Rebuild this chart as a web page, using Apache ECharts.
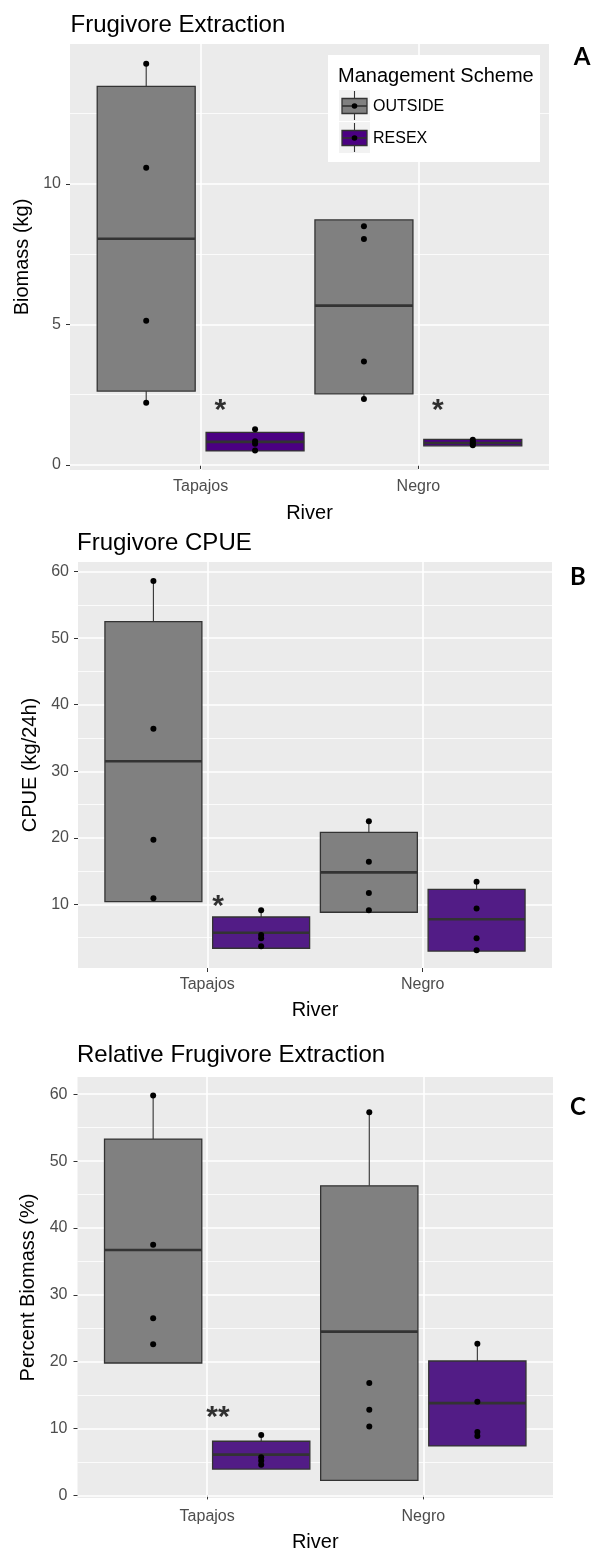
<!DOCTYPE html>
<html>
<head>
<meta charset="utf-8">
<title>Frugivore extraction by river and management scheme</title>
<script src="https://cdn.jsdelivr.net/npm/echarts@6/dist/echarts.min.js"></script>
<style>
  html, body { margin: 0; padding: 0; background: #ffffff; }
  #chart { width: 593px; height: 1553px; }
</style>
</head>
<body>
<div id="chart"></div>
<script>
// ---- data -------------------------------------------------------------
const rivers = ['Tapajos', 'Negro'];
const schemes = ['OUTSIDE', 'RESEX'];

// Box statistics per river/scheme: [lower whisker, Q1, median, Q3, upper whisker]
// order: Tapajos OUTSIDE, Tapajos RESEX, Negro OUTSIDE, Negro RESEX
const extractionBoxes = [
  [2.21, 2.63, 8.05, 13.47, 14.28],
  [0.50, 0.50, 0.82, 1.16, 1.27],
  [2.35, 2.53, 5.67, 8.72, 8.72],
  [0.68, 0.68, 0.78, 0.91, 0.91]
];
const extractionPoints = [
  [14.28, 10.58, 5.13, 2.21],
  [1.27, 0.84, 0.75, 0.51],
  [8.49, 8.04, 3.68, 2.35],
  [0.90, 0.82, 0.76, 0.70]
];
const extractionSig = [
  { river: 0, text: '*', y: 2.2 },
  { river: 1, text: '*', y: 2.2 }
];
const extractionTicks = [0, 5, 10];
const extractionMinor = [2.5, 7.5, 12.5];

const cpueBoxes = [
  [10.4, 10.4, 31.5, 52.5, 58.6],
  [3.39, 3.39, 5.73, 8.09, 9.1],
  [8.8, 8.8, 14.8, 20.8, 22.5],
  [2.96, 2.96, 7.75, 12.25, 13.4]
];
const cpuePoints = [
  [58.6, 36.4, 19.7, 10.9],
  [9.1, 5.4, 4.9, 3.7],
  [22.5, 16.4, 11.7, 9.1],
  [13.4, 9.35, 4.9, 3.1]
];
const cpueSig = [
  { river: 0, text: '*', y: 10.9 }
];
const cpueTicks = [10, 20, 30, 40, 50, 60];
const cpueMinor = [5, 15, 25, 35, 45, 55];

const relativeBoxes = [
  [19.8, 19.8, 36.7, 53.3, 59.8],
  [3.94, 3.94, 6.1, 8.1, 9.05],
  [2.24, 2.24, 24.5, 46.3, 57.3],
  [7.4, 7.4, 13.8, 20.1, 22.7]
];
const relativePoints = [
  [59.8, 37.5, 26.5, 22.6],
  [9.05, 5.7, 5.2, 4.6],
  [57.3, 16.8, 12.8, 10.3],
  [22.7, 14.0, 9.5, 8.9]
];
const relativeSig = [
  { river: 0, text: '**', y: 12.8 }
];
const relativeTicks = [0, 10, 20, 30, 40, 50, 60];
const relativeMinor = [5, 15, 25, 35, 45, 55];

// ---- layout & style ---------------------------------------------------
const FONT = "'Liberation Sans', Arial, sans-serif";
const GREY = '#808080';
const DODGE = 0.25;      // offset of each scheme from the river position
const BOX_WIDTH = 0.45;  // box width in river-axis units
const X_RANGE = [0.4, 2.6];

const panels = [
  {
    title: 'Frugivore Extraction', tag: 'A', yName: 'Biomass (kg)',
    boxes: extractionBoxes, points: extractionPoints, sig: extractionSig, sigShift: 0.09,
    ticks: extractionTicks, minor: extractionMinor, yRange: [-0.18, 14.98],
    grid: { left: 70, top: 44, width: 479, height: 426 },
    fills: [GREY, '#4B0082'],
    titlePos: [70.5, 13], tagPos: [582, 57],
    yNameGap: 35, xNameGap: 33, xLabelMargin: 9, yLabelMargin: 9
  },
  {
    title: 'Frugivore CPUE', tag: 'B', yName: 'CPUE (kg/24h)',
    boxes: cpueBoxes, points: cpuePoints, sig: cpueSig, sigShift: 0.05,
    ticks: cpueTicks, minor: cpueMinor, yRange: [0.42, 61.46],
    grid: { left: 78, top: 562, width: 474, height: 406 },
    fills: [GREY, '#521C86'],
    titlePos: [77, 531], tagPos: [578, 577],
    yNameGap: 38, xNameGap: 32, xLabelMargin: 9, yLabelMargin: 9
  },
  {
    title: 'Relative Frugivore Extraction', tag: 'C', yName: 'Percent Biomass (%)',
    boxes: relativeBoxes, points: relativePoints, sig: relativeSig, sigShift: 0.05,
    ticks: relativeTicks, minor: relativeMinor, yRange: [-0.39, 62.58],
    grid: { left: 77.5, top: 1077, width: 475.5, height: 422 },
    fills: [GREY, '#521C86'],
    titlePos: [77, 1043], tagPos: [578, 1107],
    yNameGap: 37, xNameGap: 34, xLabelMargin: 10.5, yLabelMargin: 10
  }
];

function boxX(k) {
  const river = Math.floor(k / 2);
  const scheme = k % 2;
  return river + 1 + (scheme === 0 ? -DODGE : DODGE);
}

function boxRenderer(fills) {
  return function (params, api) {
    const x = api.value(0);
    const pLo = api.coord([x, api.value(1)]);
    const pQ1 = api.coord([x, api.value(2)]);
    const pMed = api.coord([x, api.value(3)]);
    const pQ3 = api.coord([x, api.value(4)]);
    const pHi = api.coord([x, api.value(5)]);
    const half = api.size([BOX_WIDTH, 0])[0] / 2;
    const cx = pMed[0];
    const stroke = '#333333';
    return {
      type: 'group',
      children: [
        { type: 'line', shape: { x1: cx, y1: pQ3[1], x2: cx, y2: pHi[1] }, style: { stroke: stroke, lineWidth: 1.1 } },
        { type: 'line', shape: { x1: cx, y1: pQ1[1], x2: cx, y2: pLo[1] }, style: { stroke: stroke, lineWidth: 1.1 } },
        { type: 'rect', shape: { x: cx - half, y: pQ3[1], width: half * 2, height: pQ1[1] - pQ3[1] },
          style: { fill: fills[params.dataIndex % 2], stroke: stroke, lineWidth: 1.3 } },
        { type: 'line', shape: { x1: cx - half, y1: pMed[1], x2: cx + half, y2: pMed[1] }, style: { stroke: stroke, lineWidth: 2.6 } }
      ]
    };
  };
}

const option = {
  animation: false,
  backgroundColor: '#ffffff',
  title: [],
  grid: [],
  xAxis: [],
  yAxis: [],
  series: [],
  graphic: []
};

panels.forEach(function (p, i) {
  option.title.push({
    text: p.title, left: p.titlePos[0], top: p.titlePos[1], padding: 0,
    textStyle: { fontFamily: FONT, fontSize: 24, fontWeight: 'normal', color: '#000000' }
  });
  option.graphic.push({
    type: 'text', x: p.tagPos[0], y: p.tagPos[1], z: 100,
    style: { text: p.tag, fill: '#000000', font: 'bold 24px Lato, sans-serif', align: 'center', verticalAlign: 'middle' }
  });

  option.grid.push(Object.assign({ show: true, backgroundColor: '#EBEBEB', borderWidth: 0, containLabel: false }, p.grid));

  option.xAxis.push({
    gridIndex: i, type: 'value', min: X_RANGE[0], max: X_RANGE[1],
    axisLine: { show: false },
    axisTick: { show: true, customValues: [1, 2], length: 4, lineStyle: { color: '#333333', width: 1 } },
    axisLabel: {
      customValues: [1, 2], margin: p.xLabelMargin,
      formatter: function (v) { return rivers[Math.round(v) - 1]; },
      color: '#4D4D4D', fontSize: 16, fontFamily: FONT
    },
    splitLine: { show: true, lineStyle: { color: '#ffffff', width: 1.6 } },
    name: 'River', nameLocation: 'middle', nameGap: p.xNameGap,
    nameTextStyle: { fontSize: 20, color: '#000000', fontFamily: FONT }
  });

  // major y axis
  option.yAxis.push({
    gridIndex: i, type: 'value', min: p.yRange[0], max: p.yRange[1], position: 'left',
    axisLine: { show: false },
    axisTick: { show: true, customValues: p.ticks, length: 4, lineStyle: { color: '#333333', width: 1 } },
    axisLabel: { customValues: p.ticks, margin: p.yLabelMargin, color: '#4D4D4D', fontSize: 16, fontFamily: FONT },
    splitLine: { show: true, lineStyle: { color: '#ffffff', width: 1.6 } },
    name: p.yName, nameLocation: 'middle', nameGap: p.yNameGap,
    nameTextStyle: { fontSize: 20, color: '#000000', fontFamily: FONT },
    z: 1
  });
  // minor grid lines
  option.yAxis.push({
    gridIndex: i, type: 'value', min: p.yRange[0], max: p.yRange[1], position: 'left',
    axisLine: { show: false },
    axisTick: { show: false, customValues: p.minor },
    axisLabel: { show: false, customValues: p.minor },
    splitLine: { show: true, lineStyle: { color: '#ffffff', width: 0.8 } },
    z: 0
  });

  option.series.push({
    type: 'custom', name: p.title, xAxisIndex: i, yAxisIndex: i * 2,
    renderItem: boxRenderer(p.fills),
    encode: { x: 0, y: [1, 2, 3, 4, 5] },
    data: p.boxes.map(function (b, k) { return [boxX(k)].concat(b); }),
    silent: true, z: 2
  });

  const pts = [];
  p.points.forEach(function (arr, k) {
    arr.forEach(function (v) { pts.push([boxX(k), v]); });
  });
  option.series.push({
    type: 'scatter', xAxisIndex: i, yAxisIndex: i * 2,
    symbol: 'circle', symbolSize: 6,
    itemStyle: { color: '#000000', opacity: 1 },
    data: pts, silent: true, z: 3
  });

  option.series.push({
    type: 'scatter', xAxisIndex: i, yAxisIndex: i * 2,
    symbolSize: 0,
    data: p.sig.map(function (s) { return { value: [s.river + 1 + p.sigShift, s.y], name: s.text }; }),
    label: {
      show: true, position: 'inside', offset: [0, 8],
      formatter: function (d) { return d.name; },
      color: '#000000', fontSize: 30, fontWeight: 'bold', fontFamily: FONT
    },
    silent: true, z: 4
  });
});

// legend for management scheme (panel A)
(function () {
  const g = option.graphic;
  g.push({ type: 'rect', shape: { x: 328, y: 55, width: 212, height: 107 }, style: { fill: '#ffffff' }, z: 50 });
  g.push({ type: 'text', x: 338, y: 76, z: 51,
    style: { text: 'Management Scheme', fill: '#000000', font: '20px ' + FONT, verticalAlign: 'middle' } });
  schemes.forEach(function (name, s) {
    const top = 90 + s * 32;
    const cx = 354.5, cy = top + 16;
    const fill = s === 0 ? GREY : panels[0].fills[1];
    g.push({ type: 'rect', shape: { x: 339, y: top, width: 31, height: 31 }, style: { fill: '#F2F2F2' }, z: 51 });
    g.push({ type: 'line', shape: { x1: cx, y1: top + 1, x2: cx, y2: top + 30 }, style: { stroke: '#333333', lineWidth: 1.1 }, z: 52 });
    g.push({ type: 'rect', shape: { x: 342, y: cy - 7.5, width: 25, height: 15 }, style: { fill: fill, stroke: '#333333', lineWidth: 1.3 }, z: 53 });
    g.push({ type: 'line', shape: { x1: 342, y1: cy, x2: 367, y2: cy }, style: { stroke: '#333333', lineWidth: 1.6 }, z: 54 });
    g.push({ type: 'circle', shape: { cx: cx, cy: cy, r: 2.8 }, style: { fill: '#000000' }, z: 55 });
    g.push({ type: 'text', x: 373, y: cy + 0.5, z: 51,
      style: { text: name, fill: '#000000', font: '16px ' + FONT, verticalAlign: 'middle' } });
  });
  // lower edge of panel A's image cuts through its axis title
  g.push({ type: 'rect', shape: { x: 0, y: 519, width: 593, height: 8 }, style: { fill: '#ffffff' }, z: 60 });
})();

const chart = echarts.init(document.getElementById('chart'), null, { renderer: 'canvas', width: 593, height: 1553 });
chart.setOption(option);
</script>
</body>
</html>
